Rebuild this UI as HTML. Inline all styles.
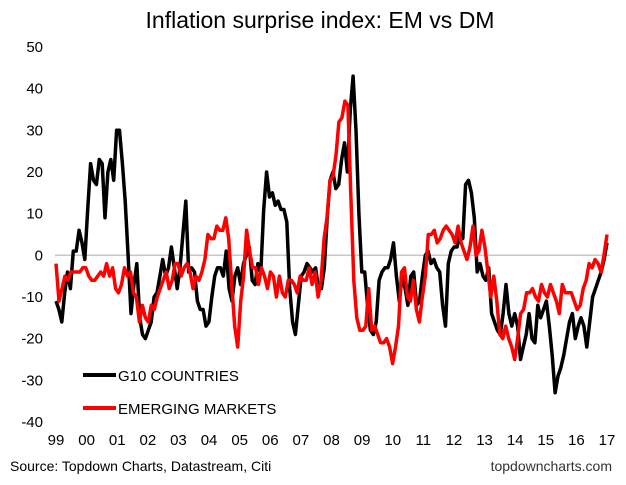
<!DOCTYPE html>
<html><head><meta charset="utf-8"><style>
body{margin:0;background:#fff;}
svg text{font-family:"Liberation Sans",Arial,sans-serif;}
</style></head><body>
<svg id="chart" width="626" height="480" viewBox="0 0 626 480" xmlns="http://www.w3.org/2000/svg">
<text x="320" y="28" font-size="23" text-anchor="middle" fill="#000">Inflation surprise index: EM vs DM</text>
<g id="yaxis"></g>
<g id="xaxis"></g>
<line id="zero" x1="55" x2="610" stroke="#c8c8c8" stroke-width="1.5"/>
<g id="series"></g>
<g>
<line x1="83" x2="116" y1="375" y2="375" stroke="#000" stroke-width="4"/>
<text x="118" y="381" font-size="15">G10 COUNTRIES</text>
<line x1="83" x2="116" y1="408" y2="408" stroke="#f00" stroke-width="4"/>
<text x="118" y="414" font-size="15">EMERGING MARKETS</text>
</g>
<text x="10" y="471" font-size="14">Source: Topdown Charts, Datastream, Citi</text>
<text x="612" y="471" font-size="14" text-anchor="end" fill="#333">topdowncharts.com</text>
</svg>
<script>
const yTicks=[50,40,30,20,10,0,-10,-20,-30,-40];
const xTickLabels=["99","00","01","02","03","04","05","06","07","08","09","10","11","12","13","14","15","16","17"];
const startYear=1999, endYear=2017;
const g10Values=[-11,-13,-16,-9,-4,-8,1,1,6,3,-1,11,22,18,17,23,22,9,20,23,18,30,30,22,13,0,-14,-7,-2,-15,-19,-20,-18,-16,-10,-9,-5,-1,-5,-3,2,-3,-8,-3,5,13,-4,-3,-4,-11,-13,-13,-17,-16,-10,-5,-3,-3,-5,1,-8,-11,-5,-3,-7,-2,0,2,-6,-7,-2,-4,11,20,14,15,12,13,11,11,8,-8,-16,-19,-12,-5,-4,-2,-3,-4,-3,-8,-8,-3,9,18,20,16,17,23,27,20,35,43,30,10,-4,-4,-12,-18,-19,-16,-6,-4,-3,-3,-1,3,-5,-11,-5,-8,-12,-5,-4,-12,-11,-5,0,1,-2,-1,-3,-4,-12,-17,-2,1,2,2,5,4,17,18,15,9,-4,-2,-5,-6,-3,-14,-16,-18,-19,-14,-7,-14,-17,-14,-17,-25,-22,-19,-14,-20,-21,-12,-15,-13,-11,-17,-24,-33,-29,-27,-24,-20,-16,-14,-20,-17,-15,-17,-22,-16,-10,-8,-6,-4,-1,3];
const emValues=[-2,-11,-8,-5,-6,-4,-4,-4,-4,-3,-3,-5,-6,-6,-5,-4,-5,-2,-5,-3,-8,-9,-7,-3,-5,-4,-9,-10,-16,-12,-15,-16,-12,-13,-10,-8,-6,-4,-8,-6,-2,-2,-5,-3,-2,-4,-8,-5,-6,-4,-1,5,4,4,7,6,6,9,4,-7,-17,-22,-11,-5,6,1,-3,-3,-7,-3,-5,-8,-4,-5,-10,-5,-9,-10,-6,-6,-7,-9,-5,-6,-6,-3,-7,-4,-10,-6,4,9,18,19,24,32,33,37,36,14,-6,-15,-18,-18,-17,-8,-18,-17,-19,-21,-21,-20,-22,-26,-22,-17,-4,-3,-10,-11,-6,-13,-16,-10,-5,5,5,6,3,4,6,7,6,5,3,7,3,1,-1,2,7,0,1,6,2,-4,-10,-5,-11,-19,-20,-17,-20,-22,-25,-20,-14,-13,-9,-9,-8,-10,-11,-7,-9,-10,-7,-9,-11,-14,-7,-9,-9,-9,-11,-13,-12,-8,-6,-2,-3,-1,-2,-4,0,5];
const X0=56,X1=607,Y0=255.3,PX=4.167;
function xScale(t){return X0+(t-startYear)/(endYear-startYear)*(X1-X0);}
function yScale(v){return Y0-v*PX;}
const NS="http://www.w3.org/2000/svg";
const ya=document.getElementById('yaxis');
yTicks.forEach(v=>{const t=document.createElementNS(NS,'text');


t.setAttribute('x',43);t.setAttribute('y',yScale(v)+5);t.setAttribute('font-size','15');t.setAttribute('text-anchor','end');t.textContent=v;ya.appendChild(t);});
const xa=document.getElementById('xaxis');
xTickLabels.forEach((l,i)=>{const t=document.createElementNS(NS,'text');


t.setAttribute('x',xScale(startYear+i));t.setAttribute('y',445);t.setAttribute('font-size','15');t.setAttribute('text-anchor','middle');t.textContent=l;xa.appendChild(t);});
const z=document.getElementById('zero');z.setAttribute('y1',yScale(0));z.setAttribute('y2',yScale(0));
function draw(vals,color,name){const n=vals.length;const pts=vals.map((v,i)=>xScale(startYear+i/(n-1)*(endYear-startYear)).toFixed(1)+','+yScale(v).toFixed(1)).join(' ');
const p=document.createElementNS(NS,'polyline');


p.setAttribute('points',pts);p.setAttribute('fill','none');p.setAttribute('stroke',color);p.setAttribute('stroke-width','3.5');p.setAttribute('stroke-linejoin','round');document.getElementById('series').appendChild(p);}
draw(g10Values,'#000','g10-line');
draw(emValues,'#f00','em-line');
</script>
</body></html>
